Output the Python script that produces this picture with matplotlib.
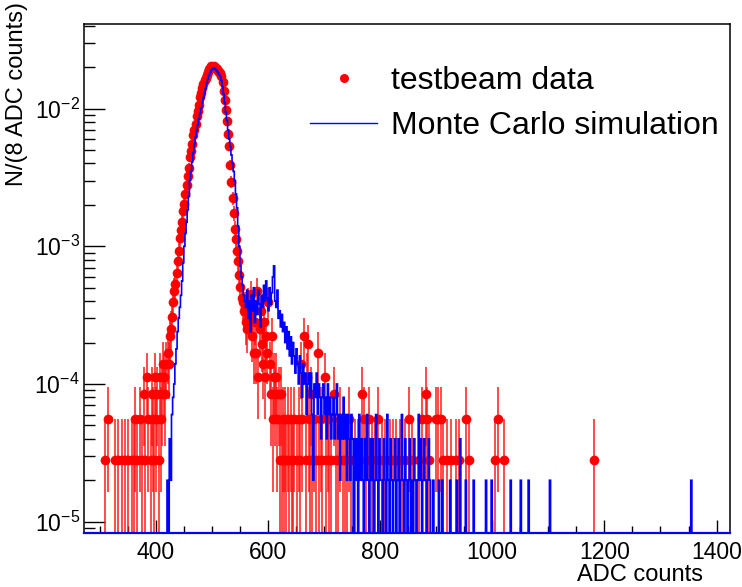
import numpy as np
import matplotlib
matplotlib.use("Agg")
import matplotlib.pyplot as plt
from matplotlib.lines import Line2D
from matplotlib.ticker import MultipleLocator, LogLocator, LogFormatterSciNotation, NullFormatter

plt.rcParams['font.family'] = ['Liberation Sans', 'DejaVu Sans']
plt.rcParams['mathtext.fontset'] = 'custom'
plt.rcParams['mathtext.rm'] = 'Liberation Sans'
plt.rcParams['mathtext.it'] = 'Liberation Sans:italic'

# ---- binning ------------------------------------------------------------
bin_start = 272
bin_stop = 1424
bin_width = 2

# ---- testbeam data (events per bin; bins given by their centre) --------
data_low_centers = [309, 315, 327, 333, 339, 345, 351, 357, 361, 363, 367, 371, 375,
                    379, 381, 385, 387, 391, 393, 395, 397, 399, 401, 403, 405, 407,
                    409, 411, 413, 415, 417, 419]
data_low_counts = [1, 2, 1, 1, 1, 1, 1, 1, 1, 2, 1, 2, 1,
                   3, 1, 4, 2, 1, 3, 2, 1, 4, 2, 3, 1, 4,
                   2, 3, 5, 4, 3, 5]

data_peak_first = 421   # contiguous bins from here
data_peak_counts = [6, 5, 8, 9, 11, 14, 17, 19, 23, 28, 33, 41, 47, 54, 64, 72, 85, 99,
                    115, 132, 158, 176, 196, 228, 250, 275, 315, 345, 378, 430, 462,
                    500, 540, 575, 600, 630, 660, 690, 700, 725, 712, 728, 705, 700,
                    690, 672, 660, 650, 620, 560, 480, 410, 350, 290, 235, 190, 140,
                    105, 80, 62, 48, 40, 33, 28, 22, 18, 15, 14, 12, 13, 10]

data_tail_centers = [563, 565, 567, 569, 571, 573, 575, 577, 579, 581, 583, 585, 587,
                     589, 591, 593, 595, 597, 599, 601, 603, 605, 607, 609, 611, 613,
                     615, 617, 619, 621, 623, 625, 627, 629, 631, 633, 635, 637, 641,
                     643, 645, 647, 651, 655, 657, 659, 661, 665, 667, 669, 671, 673,
                     675, 677, 679, 683, 685, 689, 691, 695, 697, 701, 703, 707, 709,
                     713, 717, 721, 725, 729, 733, 737, 741, 745, 749, 755, 761, 767,
                     771, 775, 781, 785, 791, 797, 803, 809, 817, 823, 829, 835, 839,
                     845, 851, 857, 869, 875, 881, 883, 887, 899, 903, 909, 913, 919,
                     927, 935, 941, 953, 959, 1005, 1011, 1021, 1181]
data_tail_counts = [9, 14, 11, 16, 8, 12, 6, 10, 6, 17, 4, 9, 12,
                    7, 5, 10, 4, 8, 6, 14, 5, 3, 8, 2, 4, 3,
                    4, 2, 3, 1, 3, 1, 2, 1, 2, 1, 2, 1, 2,
                    1, 1, 2, 1, 2, 1, 5, 2, 8, 1, 4, 7, 2,
                    1, 3, 1, 2, 1, 6, 1, 2, 1, 4, 1, 2, 1,
                    1, 3, 1, 1, 2, 1, 1, 1, 2, 1, 1, 1, 3,
                    2, 1, 2, 1, 1, 2, 1, 1, 1, 1, 1, 1, 1,
                    1, 2, 1, 1, 2, 3, 2, 1, 2, 2, 2, 1, 1,
                    1, 1, 1, 2, 1, 1, 2, 1, 1]
data_scale = 2.8e-5     # value of one event

# ---- Monte Carlo simulation (events per bin) ---------------------------
mc_first = 421          # contiguous bins from here
mc_counts_main = [1, 0, 2, 1, 3, 4, 5, 7, 9, 12, 15, 18, 22, 28, 38, 50, 62, 75, 92, 115,
                  150, 175, 205, 240, 275, 310, 345, 380, 420, 460, 505, 550, 600, 650,
                  700, 760, 820, 870, 910, 950, 975, 985, 975, 960, 940, 910, 880, 850,
                  800, 720, 640, 550, 470, 410, 350, 300, 265, 230, 200, 175, 150, 120,
                  95, 70, 50, 36, 30, 26, 22, 20,
                  18, 24, 15, 20, 12, 22, 17, 25, 14, 20, 16, 24, 19, 13, 22, 18, 26,
                  20, 28, 21, 17, 25, 19, 23, 30, 36, 20, 18, 24, 15, 17, 13, 16, 12,
                  14, 10, 13, 9, 12, 8, 11, 7, 10, 8, 6, 9, 7, 5, 8, 6, 4, 7, 5, 6, 3,
                  5, 6, 4, 6, 3, 1, 5, 4, 6, 3, 5, 4, 2, 4, 5, 3, 4, 2, 5, 3, 4, 2, 3,
                  4, 2, 3, 5, 2, 3, 1, 3, 2, 4, 2, 3, 1, 3, 2, 1, 3, 2, 0, 2, 1, 2, 0,
                  3, 1, 2, 1, 0, 2, 1, 3, 1, 0, 2, 1, 2, 0, 1, 3, 1, 0, 2, 1, 1, 0, 2,
                  1, 0, 3, 1, 0, 2, 1, 0, 1, 2, 0, 1, 2, 0, 1, 3, 1, 0, 2, 1, 0, 1, 2,
                  0, 1, 0, 2, 1, 0, 1, 3, 1, 2, 0, 1, 2, 1, 0, 1, 2, 1]
mc_sparse_centers = [895, 905, 911, 925, 937, 943, 953, 967, 989, 999, 1033, 1051,
                     1065, 1103, 1355]
mc_sparse_counts = [1, 1, 1, 1, 1, 2, 1, 1, 1, 1, 1, 1, 1, 1, 1]
mc_scale = 2.0e-5       # value of one event

legend_labels = ["testbeam data", "Monte Carlo simulation"]
x_title = "ADC counts"
y_title = "N/(8 ADC counts)"

# ---- build histograms ----------------------------------------------------
edges = np.arange(bin_start, bin_stop + bin_width, bin_width)
nb = len(edges) - 1


def fill(hist, centers, counts):
    idx = ((np.asarray(centers) - bin_start) // bin_width).astype(int)
    hist[idx] = counts


dc = np.zeros(nb)
fill(dc, data_low_centers, data_low_counts)
fill(dc, data_peak_first + bin_width * np.arange(len(data_peak_counts)), data_peak_counts)
fill(dc, data_tail_centers, data_tail_counts)

mch = np.zeros(nb)
fill(mch, mc_first + bin_width * np.arange(len(mc_counts_main)), mc_counts_main)
fill(mch, mc_sparse_centers, mc_sparse_counts)

centers = 0.5 * (edges[:-1] + edges[1:])
mc = mch * mc_scale

ymin, ymax = 8.28e-6, 0.0411

# ---- figure -----------------------------------------------------------
fig = plt.figure(figsize=(7.42, 5.87), dpi=100)
ax = fig.add_axes([84 / 742, 1 - 533 / 587, (730 - 84) / 742, (533 - 24) / 587])
ax.set_yscale('log')

mask = dc > 0
yv = dc[mask] * data_scale
err = np.sqrt(dc[mask]) * data_scale
lo = yv - np.maximum(yv - err, 1e-9)
ax.errorbar(centers[mask], yv, yerr=[lo, err], fmt='o', color='red', ms=7,
            mew=0, ecolor=(1, 0.05, 0.05, 0.8), elinewidth=1.3, capsize=0, zorder=2)

mc_draw = np.where(mc > 0, mc, ymin)
ax.stairs(mc_draw, edges, color='blue', linewidth=1.2, baseline=None, zorder=3)

ax.set_xlim(bin_start, bin_stop)
ax.set_ylim(ymin, ymax)

ax.xaxis.set_major_locator(MultipleLocator(200))
ax.xaxis.set_minor_locator(MultipleLocator(50))
ax.yaxis.set_major_locator(LogLocator(base=10))
ax.yaxis.set_minor_locator(LogLocator(base=10, subs=np.arange(2, 10)))
ax.yaxis.set_major_formatter(LogFormatterSciNotation())
ax.yaxis.set_minor_formatter(NullFormatter())

ax.tick_params(axis='x', which='major', direction='in', length=9.4, width=1.0,
               labelsize=16.5, pad=6, top=False)
ax.tick_params(axis='x', which='minor', direction='in', length=5, width=1.0, top=False)
ax.tick_params(axis='y', which='major', direction='in', length=15, width=1.0,
               labelsize=16.5, pad=3, right=False)
ax.tick_params(axis='y', which='minor', direction='in', length=8, width=1.0, right=False)

for s in ax.spines.values():
    s.set_linewidth(1.1)
ax.spines['bottom'].set_color('blue')
ax.spines['bottom'].set_linewidth(1.6)

fig.text(17 / 742, 1 - 2 / 587, y_title, rotation=90, ha='center', va='top', fontsize=17)
fig.text(703 / 742, 1 - 575 / 587, x_title, ha='right', va='center', fontsize=17)

handles = [Line2D([], [], marker='o', color='red', linestyle='none', ms=6.5, mew=0),
           Line2D([], [], color='blue', linewidth=1.0)]
ax.legend(handles, legend_labels, loc='upper left',
          bbox_to_anchor=(310 / 742, 1 - 66 / 587), bbox_transform=fig.transFigure,
          frameon=False, fontsize=23, handlelength=2.1, handletextpad=0.45,
          labelspacing=0.48, borderpad=0, borderaxespad=0)

fig.savefig("out.png", dpi=100)
